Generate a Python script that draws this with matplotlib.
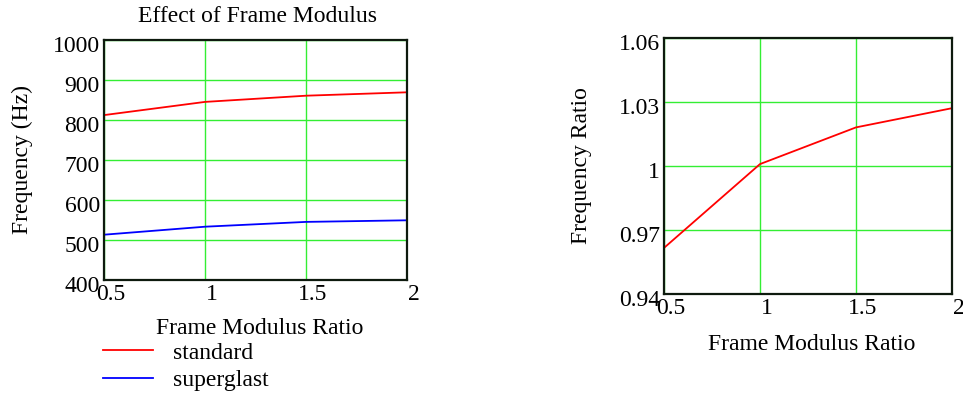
import matplotlib
matplotlib.use("Agg")
import matplotlib.pyplot as plt
from matplotlib.transforms import ScaledTranslation

plt.rcParams['font.family'] = ['Liberation Serif', 'DejaVu Serif']

modulus_ratio = [0.5, 1.0, 1.5, 2.0]
freq_standard = [811, 844, 859.5, 868]
freq_superglast = [512, 532, 544, 548]
freq_ratio = [0.9616, 1.0009, 1.0181, 1.0271]

left_yticks = [400, 500, 600, 700, 800, 900, 1000]
left_yticklabels = ['400', '500', '600', '700', '800', '900', '1000']
right_yticks = [0.94, 0.97, 1.0, 1.03, 1.06]
right_yticklabels = ['0.94', '0.97', '1', '1.03', '1.06']
xticks = [0.5, 1.0, 1.5, 2.0]
xticklabels = ['0.5', '1', '1.5', '2']

W, H = 963, 399
fig = plt.figure(figsize=(W / 100, H / 100), dpi=100)

def box(l, r, t, b):
    return [l / W, 1 - b / H, (r - l) / W, (b - t) / H]

ax1 = fig.add_axes(box(104, 407, 39.5, 279.5))
ax2 = fig.add_axes(box(664, 952, 38, 294))

FS = 17
grid_c = '#33ee33'
frame_c = '#0e1a0e'

for ax in (ax1, ax2):
    ax.set_xlim(0.5, 2.0)
    ax.set_xticks(xticks)
    ax.set_xticklabels(xticklabels, fontsize=FS)
    ax.tick_params(length=0, pad=3)
    for s in ax.spines.values():
        s.set_color(frame_c)
        s.set_linewidth(1.6)
    ax.grid(True, color=grid_c, linewidth=1.0)
    ax.set_axisbelow(True)

ax1.set_ylim(400, 1000)
ax1.set_yticks(left_yticks)
ax1.set_yticklabels(left_yticklabels, fontsize=FS)
ax1.plot(modulus_ratio, freq_standard, color='#ff0000', lw=1.3, label='standard')
ax1.plot(modulus_ratio, freq_superglast, color='#0000ff', lw=1.3, label='superglast')

ax2.set_ylim(0.94, 1.06)
ax2.set_yticks(right_yticks)
ax2.set_yticklabels(right_yticklabels, fontsize=FS)
ax2.plot(modulus_ratio, freq_ratio, color='#ff0000', lw=1.3)

for ax in (ax1, ax2):
    offx = ScaledTranslation(5 / 72, 0, fig.dpi_scale_trans)
    for lab in ax.get_xticklabels():
        lab.set_transform(lab.get_transform() + offx)
    offy = ScaledTranslation(0, -3 / 72, fig.dpi_scale_trans)
    for lab in ax.get_yticklabels():
        lab.set_transform(lab.get_transform() + offy)

fig.text(258 / W, 1 - 17 / H, 'Effect of Frame Modulus', ha='center', va='center', fontsize=17)
fig.text(22 / W, 1 - 160 / H, 'Frequency (Hz)', ha='center', va='center', rotation=90, fontsize=FS)
fig.text(260 / W, 1 - 328 / H, 'Frame Modulus Ratio', ha='center', va='center', fontsize=FS)
fig.text(582 / W, 1 - 166 / H, 'Frequency Ratio', ha='center', va='center', rotation=90, fontsize=FS)
fig.text(812 / W, 1 - 345 / H, 'Frame Modulus Ratio', ha='center', va='center', fontsize=FS)

fig.legend(handles=ax1.get_lines(), loc='upper left', bbox_to_anchor=(103 / W, 1 - 342 / H),
           frameon=False, fontsize=FS, handlelength=2.1, handletextpad=0.85,
           labelspacing=0.25, borderaxespad=0, borderpad=0)

fig.savefig('out.png', dpi=100)
